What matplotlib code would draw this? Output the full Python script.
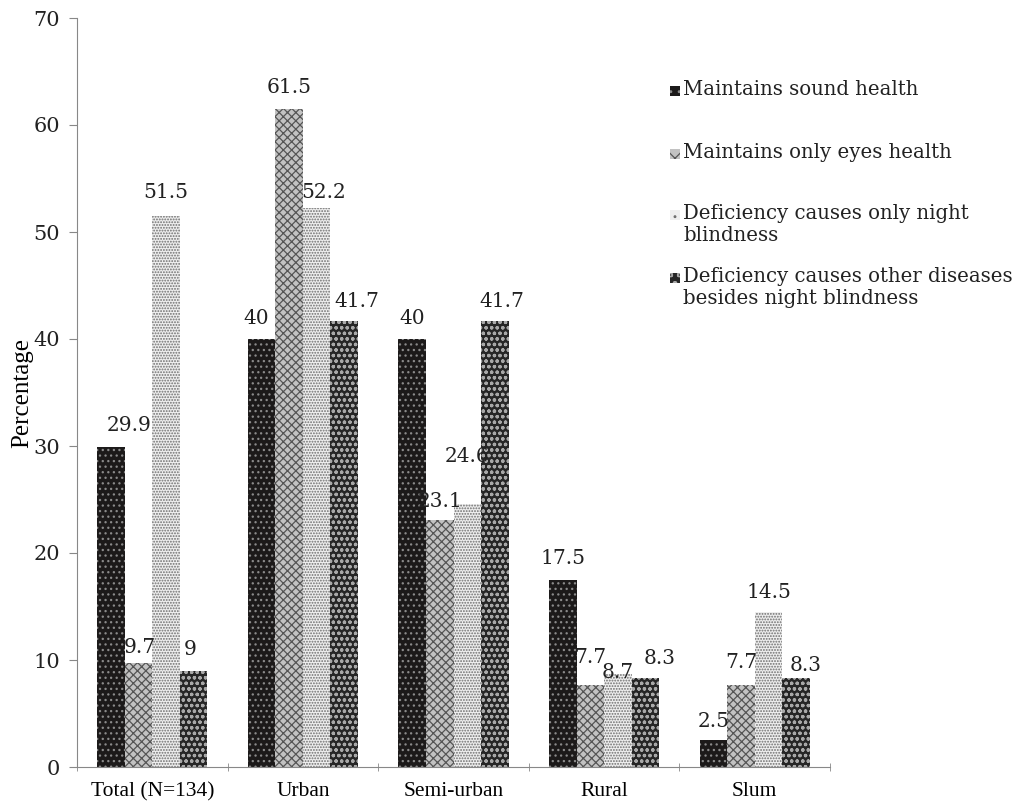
import numpy as np
import matplotlib.pyplot as plt
from matplotlib.patches import Rectangle

categories = ['Total (N=134)', 'Urban', 'Semi-urban', 'Rural', 'Slum']
series_names = ['Maintains sound health',
                'Maintains only eyes health',
                'Deficiency causes only night\nblindness',
                'Deficiency causes other diseases\nbesides night blindness']
sound_health = [29.9, 40, 40, 17.5, 2.5]
eyes_health = [9.7, 61.5, 23.1, 7.7, 7.7]
night_blindness = [51.5, 52.2, 24.6, 8.7, 14.5]
other_diseases = [9, 41.7, 41.7, 8.3, 8.3]

# (face, hatch colour, hatch) for each series
styles = [('#1c1a1a', '#8a8a8a', '...'),
          ('#c2c2c2', '#555555', 'xxxx'),
          ('#eeeeee', '#6e6e6e', '......'),
          ('#262626', '#a8a8a8', 'ooo')]

# hand nudges of the value labels (pixels right, pixels above bar top)
nudges = [[(18, 22), (1, 16), (0, 23), (-3, 21)],
          [(-5, 20), (0, 21), (7, 16), (13, 19)],
          [(0, 20), (0, 18), (0, 47), (7, 19)],
          [(0, 21), (0, 27), (0, 1), (14, 20)],
          [(0, 19), (0, 22), (0, 19), (10, 13)]]

plt.rcParams['hatch.linewidth'] = 0.9
W, H = 1021, 805
fig = plt.figure(figsize=(W / 100, H / 100), dpi=100)
ax = fig.add_axes([77 / W, 1 - 767 / H, (830 - 77) / W, (767 - 18) / H])

values = [sound_health, eyes_health, night_blindness, other_diseases]
x = np.arange(len(categories))
bw = 0.183
for i, vals in enumerate(values):
    fc, hc, hatch = styles[i]
    pos = x + (i - 1.5) * bw
    ax.bar(pos, vals, bw, color=fc, edgecolor=hc, hatch=hatch, linewidth=0, zorder=2)

px = 0.72  # points per pixel
for i, vals in enumerate(values):
    pos = x + (i - 1.5) * bw
    for j, (p, v) in enumerate(zip(pos, vals)):
        dx, dy = nudges[j][i]
        ax.annotate(f'{v:g}', (p, v), xytext=(dx * px, dy * px), textcoords='offset points',
                    ha='center', va='center', fontsize=14.5, family='DejaVu Serif',
                    color='#222222', zorder=5)

ax.set_xlim(-0.5, len(categories) - 0.5)
ax.set_ylim(0, 70)
ax.set_yticks(range(0, 71, 10))
ax.set_xticks(x)
ax.set_xticklabels(categories, family='Liberation Serif', fontsize=15.5)
ax.set_xticks(np.arange(-0.5, len(categories)), minor=True)
ax.tick_params(axis='x', which='major', length=0, pad=11)
ax.tick_params(axis='x', which='minor', length=6, color='#888888', direction='inout')
ax.tick_params(axis='y', length=6, color='#888888', labelsize=15, pad=6)
for t in ax.get_yticklabels():
    t.set_family('DejaVu Serif')
    t.set_color('#222222')
for s in ['top', 'right']:
    ax.spines[s].set_visible(False)
for s in ['left', 'bottom']:
    ax.spines[s].set_color('#888888')
ax.set_ylabel('Percentage', family='Liberation Serif', fontsize=18, labelpad=0)

# legend, laid out by hand on the right
line_y = [91, 154, 215, 278]
for i, name in enumerate(series_names):
    fc, hc, hatch = styles[i]
    yc = line_y[i]
    fig.patches.append(Rectangle((670 / W, 1 - (yc + 5) / H), 10 / W, 10 / H,
                                 transform=fig.transFigure, facecolor=fc, edgecolor=hc,
                                 hatch=hatch[:2], linewidth=0))
    fig.text(683 / W, 1 - (yc - 11) / H, name, fontsize=14.2, family='DejaVu Serif',
             va='top', ha='left', linespacing=1.2, color='#222222')

fig.savefig('out.png', dpi=100)
